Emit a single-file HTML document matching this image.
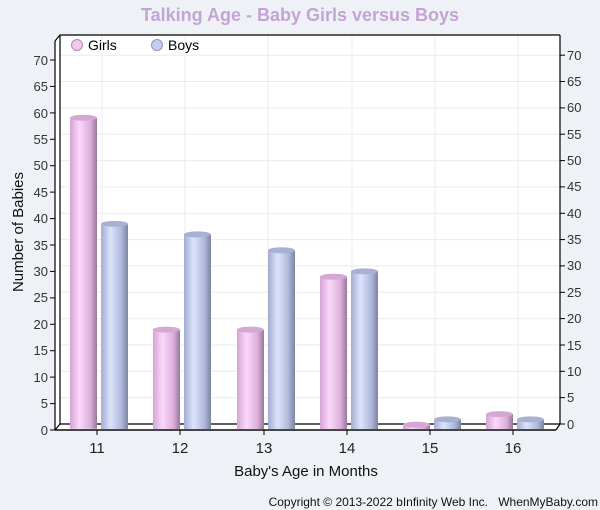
<!DOCTYPE html>
<html><head><style>
body{margin:0;background:#eef2f6;}
svg{display:block;font-family:"Liberation Sans",sans-serif;}
</style></head><body>
<svg width="600" height="510" viewBox="0 0 600 510">
<defs>
<linearGradient id="gp" x1="0" x2="1" y1="0" y2="0">
<stop offset="0" stop-color="#d4a4d4"/><stop offset="0.35" stop-color="#fad8fa"/><stop offset="0.75" stop-color="#dcb0dc"/><stop offset="1" stop-color="#9a789a"/>
</linearGradient>
<linearGradient id="gb" x1="0" x2="1" y1="0" y2="0">
<stop offset="0" stop-color="#a4acd0"/><stop offset="0.35" stop-color="#dce4fc"/><stop offset="0.75" stop-color="#b0b8dc"/><stop offset="1" stop-color="#7c84a0"/>
</linearGradient>
</defs>
<rect width="600" height="510" fill="#eef2f6"/>
<text x="300" y="21" text-anchor="middle" font-size="18" font-weight="bold" fill="#c4a4d4">Talking Age - Baby Girls versus Boys</text>
<polygon points="55,430 55,41 60,35 560,35 560,424 556,430" fill="#fff"/>
<g stroke="#ebebeb" stroke-width="1">
<line x1="60" x2="560" y1="397.6" y2="397.6"/><line x1="60" x2="560" y1="371.3" y2="371.3"/><line x1="60" x2="560" y1="345" y2="345"/><line x1="60" x2="560" y1="318.6" y2="318.6"/><line x1="60" x2="560" y1="292.3" y2="292.3"/><line x1="60" x2="560" y1="265.9" y2="265.9"/><line x1="60" x2="560" y1="239.6" y2="239.6"/><line x1="60" x2="560" y1="213.3" y2="213.3"/><line x1="60" x2="560" y1="186.9" y2="186.9"/><line x1="60" x2="560" y1="160.6" y2="160.6"/><line x1="60" x2="560" y1="134.2" y2="134.2"/><line x1="60" x2="560" y1="107.9" y2="107.9"/><line x1="60" x2="560" y1="81.5" y2="81.5"/><line x1="60" x2="560" y1="55.2" y2="55.2"/>
<line x1="102" x2="102" y1="35" y2="424"/><line x1="185" x2="185" y1="35" y2="424"/><line x1="268" x2="268" y1="35" y2="424"/><line x1="352" x2="352" y1="35" y2="424"/><line x1="435" x2="435" y1="35" y2="424"/><line x1="518" x2="518" y1="35" y2="424"/>
</g>
<g stroke="#000" stroke-width="1.2" fill="none">
<line x1="60" y1="35" x2="560" y2="35"/>
<line x1="560" y1="35" x2="560" y2="424"/>
<line x1="60" y1="35" x2="60" y2="424"/>
<line x1="60" y1="424" x2="560" y2="424"/>
<line x1="55" y1="41" x2="60" y2="35"/>
<line x1="55" y1="430" x2="60" y2="424"/>
<line x1="556" y1="430" x2="560" y2="424"/>
<line x1="55" y1="41" x2="55" y2="430"/>
<line x1="55" y1="430" x2="556" y2="430"/>
</g>
<g stroke="#000" stroke-width="1">
<line x1="50" x2="55" y1="430" y2="430"/><line x1="50" x2="55" y1="403.6" y2="403.6"/><line x1="50" x2="55" y1="377.1" y2="377.1"/><line x1="50" x2="55" y1="350.7" y2="350.7"/><line x1="50" x2="55" y1="324.3" y2="324.3"/><line x1="50" x2="55" y1="297.9" y2="297.9"/><line x1="50" x2="55" y1="271.4" y2="271.4"/><line x1="50" x2="55" y1="245" y2="245"/><line x1="50" x2="55" y1="218.6" y2="218.6"/><line x1="50" x2="55" y1="192.1" y2="192.1"/><line x1="50" x2="55" y1="165.7" y2="165.7"/><line x1="50" x2="55" y1="139.3" y2="139.3"/><line x1="50" x2="55" y1="112.9" y2="112.9"/><line x1="50" x2="55" y1="86.4" y2="86.4"/><line x1="50" x2="55" y1="60" y2="60"/>
<line x1="560" x2="565" y1="424" y2="424"/><line x1="560" x2="565" y1="397.6" y2="397.6"/><line x1="560" x2="565" y1="371.3" y2="371.3"/><line x1="560" x2="565" y1="345" y2="345"/><line x1="560" x2="565" y1="318.6" y2="318.6"/><line x1="560" x2="565" y1="292.3" y2="292.3"/><line x1="560" x2="565" y1="265.9" y2="265.9"/><line x1="560" x2="565" y1="239.6" y2="239.6"/><line x1="560" x2="565" y1="213.3" y2="213.3"/><line x1="560" x2="565" y1="186.9" y2="186.9"/><line x1="560" x2="565" y1="160.6" y2="160.6"/><line x1="560" x2="565" y1="134.2" y2="134.2"/><line x1="560" x2="565" y1="107.9" y2="107.9"/><line x1="560" x2="565" y1="81.5" y2="81.5"/><line x1="560" x2="565" y1="55.2" y2="55.2"/>
<line x1="97" x2="97" y1="430" y2="435"/><line x1="180" x2="180" y1="430" y2="435"/><line x1="264" x2="264" y1="430" y2="435"/><line x1="347" x2="347" y1="430" y2="435"/><line x1="430" x2="430" y1="430" y2="435"/><line x1="513" x2="513" y1="430" y2="435"/>
</g>
<g font-size="13" fill="#333" text-anchor="end">
<text x="48" y="435">0</text><text x="48" y="408">5</text><text x="48" y="382">10</text><text x="48" y="355">15</text><text x="48" y="329">20</text><text x="48" y="302">25</text><text x="48" y="276">30</text><text x="48" y="250">35</text><text x="48" y="223">40</text><text x="48" y="197">45</text><text x="48" y="170">50</text><text x="48" y="144">55</text><text x="48" y="118">60</text><text x="48" y="91">65</text><text x="48" y="65">70</text>
</g>
<g font-size="13" fill="#333" text-anchor="start">
<text x="567" y="429">0</text><text x="567" y="402">5</text><text x="567" y="376">10</text><text x="567" y="350">15</text><text x="567" y="323">20</text><text x="567" y="297">25</text><text x="567" y="270">30</text><text x="567" y="244">35</text><text x="567" y="218">40</text><text x="567" y="191">45</text><text x="567" y="165">50</text><text x="567" y="139">55</text><text x="567" y="112">60</text><text x="567" y="86">65</text><text x="567" y="60">70</text>
</g>
<g font-size="15" fill="#222" text-anchor="middle">
<text x="97" y="453">11</text><text x="180" y="453">12</text><text x="264" y="453">13</text><text x="347" y="453">14</text><text x="430" y="453">15</text><text x="513" y="453">16</text>
</g>
<text x="306" y="476" text-anchor="middle" font-size="15" fill="#111">Baby's Age in Months</text>
<text transform="translate(23,232) rotate(-90)" text-anchor="middle" font-size="15" fill="#111">Number of Babies</text>
<circle cx="77" cy="45" r="5.5" fill="#f0c8f0" stroke="#a890a8"/>
<text x="88" y="50" font-size="14" fill="#000">Girls</text>
<circle cx="157" cy="45" r="5.5" fill="#c4ccf0" stroke="#9098b8"/>
<text x="168" y="50" font-size="14" fill="#000">Boys</text>
<g>
<rect x="70" y="117.8" width="27" height="311" fill="url(#gp)"/><ellipse cx="83.5" cy="117.8" rx="13.5" ry="3" fill="#d4a8d4"/>
<rect x="153" y="329.6" width="27" height="99.4" fill="url(#gp)"/><ellipse cx="166.5" cy="329.6" rx="13.5" ry="3" fill="#d4a8d4"/>
<rect x="237" y="329.6" width="27" height="99.4" fill="url(#gp)"/><ellipse cx="250.5" cy="329.6" rx="13.5" ry="3" fill="#d4a8d4"/>
<rect x="320" y="276.7" width="27" height="152.3" fill="url(#gp)"/><ellipse cx="333.5" cy="276.7" rx="13.5" ry="3" fill="#d4a8d4"/>
<rect x="403" y="424.7" width="27" height="4.3" fill="url(#gp)"/><ellipse cx="416.5" cy="424.7" rx="13.5" ry="3" fill="#d4a8d4"/>
<rect x="486" y="414.1" width="27" height="14.9" fill="url(#gp)"/><ellipse cx="499.5" cy="414.1" rx="13.5" ry="3" fill="#d4a8d4"/>
<rect x="101" y="223.9" width="27" height="205.1" fill="url(#gb)"/><ellipse cx="114.5" cy="223.9" rx="13.5" ry="3" fill="#a8b0d4"/>
<rect x="184" y="234.4" width="27" height="194.6" fill="url(#gb)"/><ellipse cx="197.5" cy="234.4" rx="13.5" ry="3" fill="#a8b0d4"/>
<rect x="268" y="250.3" width="27" height="178.7" fill="url(#gb)"/><ellipse cx="281.5" cy="250.3" rx="13.5" ry="3" fill="#a8b0d4"/>
<rect x="351" y="271.4" width="27" height="157.6" fill="url(#gb)"/><ellipse cx="364.5" cy="271.4" rx="13.5" ry="3" fill="#a8b0d4"/>
<rect x="434" y="419.4" width="27" height="9.6" fill="url(#gb)"/><ellipse cx="447.5" cy="419.4" rx="13.5" ry="3" fill="#a8b0d4"/>
<rect x="517" y="419.4" width="27" height="9.6" fill="url(#gb)"/><ellipse cx="530.5" cy="419.4" rx="13.5" ry="3" fill="#a8b0d4"/>
</g>
<line x1="55" y1="430" x2="556" y2="430" stroke="#000" stroke-width="1.2"/>
<text x="488" y="506" text-anchor="end" font-size="12" fill="#111">Copyright © 2013-2022 bInfinity Web Inc.</text>
<text x="598" y="506" text-anchor="end" font-size="12" fill="#111">WhenMyBaby.com</text>
</svg>
</body></html>
